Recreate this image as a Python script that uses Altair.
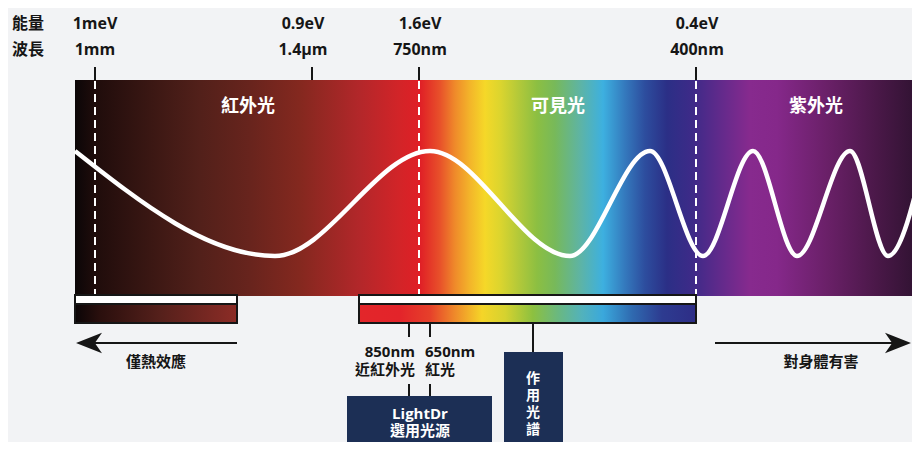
import altair as alt
import pandas as pd

# ---------------- data ----------------
# spectrum band colour stops (position along spectrum, colour)
band_pos = [75, 95, 150, 200, 250, 300, 360, 400, 420, 440, 455, 470, 485, 500, 520, 537, 555, 580, 603, 625,
            645, 667, 693, 727, 750, 777, 827, 877, 920]
band_col = ["#0b0607", "#1f0c0b", "#3a1713", "#52201a", "#68241d", "#84281f", "#b3272a", "#d32428", "#e01f26", "#e8512a",
            "#ef8a2a", "#f3b52a", "#f5d828", "#dcd52e", "#b0c83a", "#8cbf42", "#77b95a", "#5eb4a4", "#3db0e0", "#3479bd",
            "#2d4d9e", "#2b2f86", "#3e2a88", "#6a2a8c", "#872a8e", "#85288a", "#6a2068", "#4a1848", "#2e1230"]
bar1_pos = [75, 100, 160, 237]
bar1_col = ["#0a0506", "#2a0f0d", "#55201b", "#8c2c26"]
bar2_pos = [359, 400, 430, 455, 482, 505, 533, 558, 582, 603, 632, 662, 696]
bar2_col = ["#e3262a", "#e3242a", "#e6402a", "#ef8a2a", "#f5d528", "#d6d22f", "#8cc040", "#6ab880", "#52b2bc",
            "#3aa8dc", "#2f6ab0", "#2d3b90", "#2e2d86"]

# top scale marks
mark_tick_x = [95, 312, 419, 696]
energy_labels = ["1meV", "0.9eV", "1.6eV", "0.4eV"]
wave_labels = ["1mm", "1.4μm", "750nm", "400nm"]
label_x = [95, 303, 420, 697]
dashed_x = [95, 419, 696]

# region names
region_names = ["紅外光", "可見光", "紫外光"]
region_x = [248, 558, 816]

# wave extremes (x, y)
wave_x = [75, 275, 430, 570, 650, 703, 753, 797, 850, 888, 926]
wave_y = [151, 256, 151, 256, 151, 256, 151, 256, 151, 256, 151]

# ---------------- scales ----------------
XS = alt.Scale(domain=[8, 912], nice=False, zero=False)
YS = alt.Scale(domain=[8, 442], nice=False, zero=False, reverse=True)
W, H = 904, 434
FONT = "Open Sans, Noto Sans CJK TC"
NAVY = "#1c2f55"
INK = "#161616"


def grad(pos, col):
    a, b = pos[0], pos[-1]
    return alt.LinearGradient(
        gradient="linear", x1=0, x2=1, y1=0, y2=0,
        stops=[alt.GradientStop(color=c, offset=(p - a) / (b - a)) for p, c in zip(pos, col)])


def X(f="x"):
    return alt.X(f"{f}:Q", scale=XS, axis=None)


def Y(f="y"):
    return alt.Y(f"{f}:Q", scale=YS, axis=None)


def rect(df, **kw):
    return alt.Chart(df).mark_rect(clip=True, **kw).encode(
        x=X("x"), x2="x2", y=Y("y"), y2="y2")


layers = []

# main band (gradient defined over 75..920, clipped by the view at the right)
layers.append(rect(pd.DataFrame({"x": [75], "x2": [920], "y": [80], "y2": [296]}),
                   color=grad(band_pos, band_col)))

# wave
layers.append(alt.Chart(pd.DataFrame({"x": wave_x, "y": wave_y})).mark_line(
    color="white", strokeWidth=4.5, interpolate="monotone", clip=True).encode(x=X(), y=Y()))

# dashed lines
layers.append(alt.Chart(pd.DataFrame({"x": dashed_x, "y": [81] * 3, "y2": [296] * 3})).mark_rule(
    color="white", strokeWidth=2, strokeDash=[8, 5]).encode(x=X(), y=Y(), y2="y2"))

# top ticks
layers.append(alt.Chart(pd.DataFrame({"x": mark_tick_x, "y": [67] * 4, "y2": [80] * 4})).mark_rule(
    color=INK, strokeWidth=2).encode(x=X(), y=Y(), y2="y2"))

# brackets
layers.append(rect(pd.DataFrame({"x": [75, 359], "x2": [237, 696], "y": [295, 295], "y2": [323, 323]}),
                   fill="white", stroke=INK, strokeWidth=2))
layers.append(rect(pd.DataFrame({"x": [75], "x2": [237], "y": [304], "y2": [323]}),
                   color=grad(bar1_pos, bar1_col), stroke=INK, strokeWidth=2))
layers.append(rect(pd.DataFrame({"x": [359], "x2": [696], "y": [304], "y2": [323]}),
                   color=grad(bar2_pos, bar2_col), stroke=INK, strokeWidth=2))

# lower connector ticks
layers.append(alt.Chart(pd.DataFrame({"x": [409, 430, 409, 430, 533],
                                      "y": [323, 323, 384, 384, 323],
                                      "y2": [337, 337, 396, 396, 352]})).mark_rule(
    color=INK, strokeWidth=2).encode(x=X(), y=Y(), y2="y2"))

# navy boxes
layers.append(rect(pd.DataFrame({"x": [347, 504], "x2": [492, 563], "y": [396, 352], "y2": [450, 450]}),
                   color=NAVY))

# arrows
layers.append(alt.Chart(pd.DataFrame({"x": [95, 715], "x2": [237, 895], "y": [343, 343]})).mark_rule(
    color=INK, strokeWidth=2).encode(x=X(), x2="x2", y=Y()))
layers.append(alt.Chart(pd.DataFrame({"x": [89], "y": [343]})).mark_point(
    shape="M-1,0 L1,-0.78 L0.45,0 L1,0.78 Z", size=676, filled=True, opacity=1, color=INK,
    clip=True).encode(x=X(), y=Y()))
layers.append(alt.Chart(pd.DataFrame({"x": [898], "y": [343]})).mark_point(
    shape="M1,0 L-1,-0.78 L-0.45,0 L-1,0.78 Z", size=676, filled=True, opacity=1, color=INK,
    clip=True).encode(x=X(), y=Y()))


def text(df, align="center", size=15, color=INK, **kw):
    return alt.Chart(df).mark_text(font=FONT, fontWeight="bold", fontSize=size, align=align,
                                   baseline="middle", color=color, **kw).encode(x=X(), y=Y(), text="t:N")


# top labels
layers.append(text(pd.DataFrame({"x": label_x, "y": [24] * 4, "t": energy_labels}), size=16))
layers.append(text(pd.DataFrame({"x": label_x, "y": [50] * 4, "t": wave_labels}), size=16))
layers.append(text(pd.DataFrame({"x": [12, 12], "y": [24, 50], "t": ["能量", "波長"]}), align="left", size=16))

# region names
layers.append(text(pd.DataFrame({"x": region_x, "y": [107] * 3, "t": region_names}), size=18, color="white"))

# lower labels
layers.append(text(pd.DataFrame({"x": [156, 821], "y": [362, 362], "t": ["僅熱效應", "對身體有害"]}), size=15))
layers.append(text(pd.DataFrame({"x": [415, 415], "y": [352, 370], "t": ["850nm", "近紅外光"]}), align="right", size=15))
layers.append(text(pd.DataFrame({"x": [425, 425], "y": [352, 370], "t": ["650nm", "紅光"]}), align="left", size=15))
layers.append(text(pd.DataFrame({"x": [420, 420], "y": [414, 431], "t": ["LightDr", "選用光源"]}), size=15,
                   color="white"))
layers.append(text(pd.DataFrame({"x": [533] * 4, "y": [379, 396, 413, 430], "t": list("作用光譜")}),
                   size=14, color="white"))

chart = alt.layer(*layers).properties(width=W, height=H).configure(
    background="#f2f3f5", padding=0, autosize=alt.AutoSizeParams(type="none")
).configure_view(stroke=None)

chart.save("out.html", embed_options={"renderer": "svg", "actions": False})
